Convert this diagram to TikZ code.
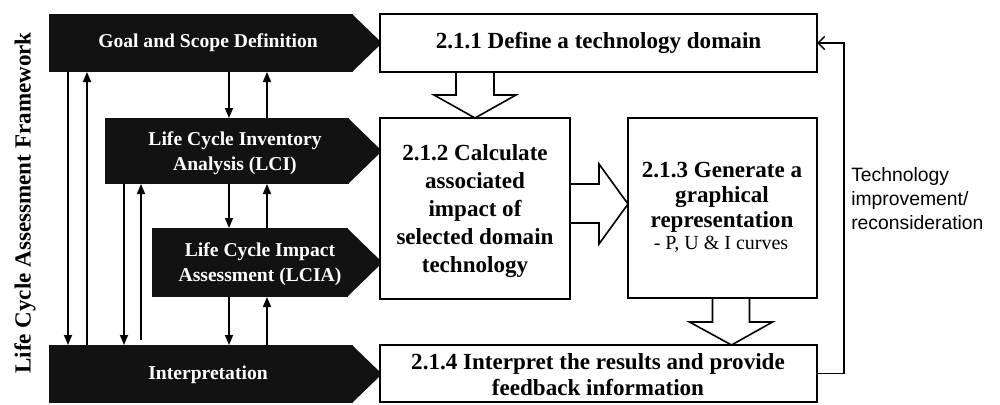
\documentclass[tikz,border=0pt]{standalone}
\usepackage{fontspec}
\setmainfont{Liberation Serif}
\setsansfont{Liberation Sans}
\usetikzlibrary{arrows.meta,fit,calc}
\begin{document}
\begin{tikzpicture}[x=0.75pt,y=-0.75pt,
  blk/.style={fill=black!93, draw=none, inner sep=0pt, outer sep=0pt},
  blktxt/.style={text=white, font=\bfseries\fontsize{14.7}{18.8}\selectfont, align=center, inner sep=0pt},
  wbox/.style={draw=black, fill=white, line width=1.4pt, inner sep=0pt, outer sep=0pt},
  hd/.style={font=\bfseries\fontsize{17.3}{21}\selectfont, align=center, inner sep=0pt},
  subtxt/.style={font=\fontsize{15}{17}\selectfont, inner sep=0pt},
  vArr/.style={line width=1.2pt, -{Triangle[length=7.5pt,width=6pt]}},
  bigArr/.style={draw=black, fill=white, line width=1.2pt, line join=miter},
  fbArr/.style={line width=1.1pt, -{Straight Barb[length=5pt,width=10pt]}}
]
\useasboundingbox (0,0) rectangle (1000,404);

% title
\node[rotate=90, font=\bfseries\fontsize{17.3}{20}\selectfont, inner sep=0pt] (title) at (25,203) {Life Cycle Assessment Framework};

% black bodies
\node[blk, fit={(49,14) (353,72)}] (goal) {};
\node[blk, fit={(105,118) (349,184)}] (lci) {};
\node[blk, fit={(152,228) (348,297)}] (lcia) {};
\node[blk, fit={(49,345) (353,403)}] (interp) {};
\fill[black!93] ($(goal.north east)+(-1,0)$) -- ($(goal.east)+(29,0)$) -- ($(goal.south east)+(-1,0)$) -- cycle;
\fill[black!93] ($(lci.north east)+(-1,0)$) -- ($(lci.east)+(33,0)$) -- ($(lci.south east)+(-1,0)$) -- cycle;
\fill[black!93] ($(lcia.north east)+(-1,0)$) -- ($(lcia.east)+(34.5,0)$) -- ($(lcia.south east)+(-1,0)$) -- cycle;
\fill[black!93] ($(interp.north east)+(-1,0)$) -- ($(interp.east)+(29,0)$) -- ($(interp.south east)+(-1,0)$) -- cycle;

\node[blktxt] (goaltxt) at (208,43) {Goal and Scope Definition};
\node[blktxt] (lcitxt) at (235,153) {Life Cycle Inventory\\Analysis (LCI)};
\node[blktxt] (lciatxt) at (260,264) {Life Cycle Impact\\Assessment (LCIA)};
\node[blktxt] (interptxt) at (208,375) {Interpretation};

% column coordinates for the small arrows
\coordinate (c1) at (68,0);
\coordinate (c2) at (87,0);
\coordinate (c3) at (124,0);
\coordinate (c4) at (141,0);
\coordinate (c5) at (229,0);
\coordinate (c6) at (267,0);

\draw[vArr] (goal.south -| c1) -- (interp.north -| c1);
\draw[vArr] (interp.north -| c2) -- (goal.south -| c2);
\draw[vArr] (lci.south -| c3) -- (interp.north -| c3);
\draw[vArr] ($(interp.north -| c4)+(0,-5)$) -- (lci.south -| c4);
\draw[vArr] (goal.south -| c5) -- (lci.north -| c5);
\draw[vArr] (lci.north -| c6) -- (goal.south -| c6);
\draw[vArr] (lci.south -| c5) -- (lcia.north -| c5);
\draw[vArr] (lcia.north -| c6) -- (lci.south -| c6);
\draw[vArr] (lcia.south -| c5) -- (interp.north -| c5);
\draw[vArr] (interp.north -| c6) -- (lcia.south -| c6);

% white boxes
\node[wbox, fit={(380,14) (817,72)}] (d211) {};
\node[wbox, fit={(380,118) (570,299)}] (d212) {};
\node[wbox, fit={(628,118) (817,298)}] (d213) {};
\node[wbox, fit={(380,345) (817,402)}] (d214) {};

\node[hd] (t211) at (d211.center) {2.1.1 Define a technology domain};
\node[hd] (t212) at (475,211) {2.1.2 Calculate\\associated\\impact of\\selected domain\\technology};
\node[hd, font=\bfseries\fontsize{17.3}{18.8}\selectfont] (t213) at (722,197) {2.1.3 Generate a\\graphical\\representation};
\node[subtxt] (t213b) at (721,244) {- P, U \& I curves};
\node[hd, font=\bfseries\fontsize{17.3}{19.5}\selectfont] (t214) at (598,375) {2.1.4 Interpret the results and provide\\feedback information};

% block arrows
\filldraw[bigArr] (d212.north) -- ++(-41,-23) -- ++(22,0) -- ++(0,-23) -- ++(38,0) -- ++(0,23) -- ++(22,0) -- cycle;
\filldraw[bigArr] ($(d213.west)+(0,-4)$) -- ++(-29,-40) -- ++(0,20) -- ++(-29,0) -- ++(0,39) -- ++(29,0) -- ++(0,21) -- cycle;
\filldraw[bigArr] ($(d214.north -| d213.south)+(9,0)$) -- ++(-42,-23) -- ++(23,0) -- ++(0,-24) -- ++(37,0) -- ++(0,24) -- ++(23,0) -- cycle;

% feedback
\coordinate (fbx) at (844,0);
\draw[fbArr] (d214.east) -- (d214.east -| fbx) |- (d211.east);
\node[font=\sffamily\fontsize{14.5}{18}\selectfont, align=left, anchor=west, inner sep=0pt] (fb) at (851,199) {Technology\\improvement/\\reconsideration};
\end{tikzpicture}
\end{document}
